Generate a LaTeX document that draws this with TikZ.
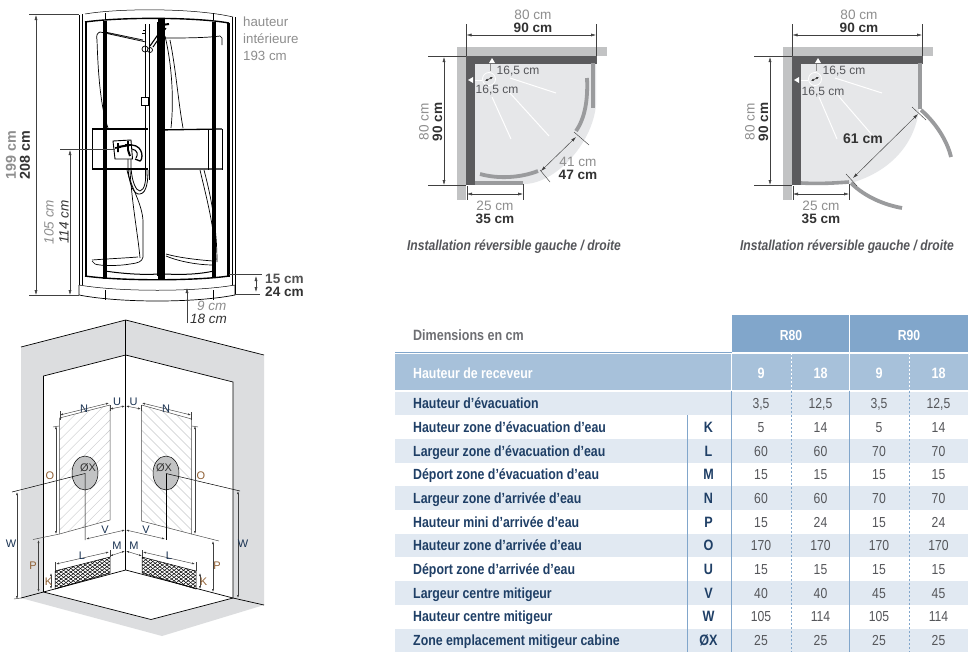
\documentclass[tikz,border=0pt]{standalone}
\usepackage{fontspec}
\setmainfont{Liberation Sans}
\newfontfamily\cond[FakeStretch=0.84]{Liberation Sans}
\usetikzlibrary{arrows.meta}
\definecolor{dk}{HTML}{333333}
\definecolor{gt}{HTML}{8E8E8E}
\definecolor{wall}{HTML}{DCDDDF}
\definecolor{band}{HTML}{C2C3C4}
\definecolor{dband}{HTML}{5B5B5D}
\definecolor{floorc}{HTML}{E6E7E9}
\definecolor{door}{HTML}{9A9B9D}
\definecolor{hdA}{HTML}{81A6CB}
\definecolor{hdB}{HTML}{A7C1DA}
\definecolor{rowc}{HTML}{E1E9F2}
\definecolor{navy}{HTML}{1F3F66}
\definecolor{valc}{HTML}{55565A}
\definecolor{hatchc}{HTML}{C8C9CB}
\tikzset{
 dimg/.style={draw=black!75,line width=.45pt,{Latex[length=5pt,width=3pt]}-{Latex[length=5pt,width=3pt]}},
 dimh/.style={draw=black!75,line width=.45pt,{Latex[length=3pt,width=2pt]}-{Latex[length=3pt,width=2pt]}},
 tickl/.style={draw=black!75,line width=.45pt},
 bk/.style={draw=black,line width=.7pt},
 sm/.style={draw=black,line width=.5pt},
 thickA/.style={draw=black,line width=2.6pt},
 lbl/.style={inner sep=0,font=\fontsize{13.6}{15}\selectfont},
 lg/.style={lbl,text=gt},
 lb/.style={lbl,text=dk,font=\fontsize{13.6}{15}\selectfont\bfseries},
 ig/.style={lbl,text=gt,font=\fontsize{13.5}{15}\selectfont\itshape},
 ib/.style={lbl,text=dk,font=\fontsize{13.5}{15}\selectfont\itshape},
 ltr/.style={inner sep=0,font=\fontsize{11}{12}\selectfont,text=navy!80!black},
 ltro/.style={ltr,text=orange!50!navy},
 capt/.style={inner sep=0,text=valc,font=\cond\fontsize{14.4}{16}\selectfont\bfseries\itshape},
 rowl/.style={anchor=base west,inner sep=0,text=navy,font=\cond\fontsize{14.7}{16}\selectfont\bfseries},
 rowk/.style={anchor=base,inner sep=0,text=navy,font=\cond\fontsize{15}{16}\selectfont\bfseries},
 val/.style={anchor=base,inner sep=0,text=valc,font=\cond\fontsize{14.5}{16}\selectfont},
 hd/.style={anchor=base,inner sep=0,text=white,font=\cond\fontsize{14.5}{16}\selectfont\bfseries},
 sml/.style={inner sep=0,text=valc,font=\fontsize{12}{13}\selectfont},
}
\newcommand{\planbase}[2]{%
 \begin{scope}[shift={(#1,0)}]
 \fill[band] (57,47) rectangle (207,56);
 \fill[band] (57,47) rectangle (66,200);
 \draw[dimg] (66.5,35) -- (196,35);
 \draw[tickl] (66.5,24) -- (66.5,62);
 \draw[tickl] (196,24) -- (196,62);
 \draw[tickl] (28,56.5) -- (66,56.5);
 \draw[tickl] (28,185.5) -- (66,185.5);
 \draw[dimg] (44,57) -- (44,185);
 \draw[dimg] (67,194) -- (123,194);
 \draw[tickl] (67,186) -- (67,200);
 \draw[tickl] (123,184) -- (123,200);
 \node[lg] (a80#1) at (133,14.5) {80 cm};
 \node[lb] (a90#1) at (133,27.5) {90 cm};
 \node[lg,rotate=90] (b80#1) at (24,122) {80 cm};
 \node[lb,rotate=90] (b90#1) at (37.5,122) {90 cm};
 \node[lg] (c25#1) at (95,205.5) {25 cm};
 \node[lb] (c35#1) at (95,218.5) {35 cm};
 \node[capt] (capt#1) at (#2,247) {Installation réversible gauche / droite};
 \end{scope}}
\newcommand{\planmarks}[1]{%
 \begin{scope}[shift={(#1,0)}]
 \fill[white] (92,58) -- (95,63) -- (89,63) -- cycle;
 \fill[white] (68,80) -- (73,77) -- (73,83) -- cycle;
 \draw[white,line width=.8pt] (89,79) circle (6.5);
 \draw[gt,line width=.5pt] (90,64) -- (90,71);
 \draw[white,line width=.8pt] (75,80) -- (82,80);
 \draw[dk,line width=.5pt,{Latex[length=3pt,width=2.5pt]}-{Latex[length=3pt,width=2.5pt]}] (85,81) -- (93,77);
 \end{scope}}
\begin{document}
\begin{tikzpicture}[x=1pt,y=-1pt]
\useasboundingbox (0,0) rectangle (976,664);
\fill[white] (0,0) rectangle (976,664);
%% ===== cabin =====
\draw[sm] (79,15) -- (79,285) (82,14) -- (82,285) (105,13) -- (105,20) (213,13) -- (213,20);
\draw[sm] (235,17) -- (235,295) (232,17) -- (232,285);
\draw[bk] (79,285) -- (79,295) .. controls (120,303) and (195,303) .. (235,295) -- (235,285);
\draw[sm] (79,285) .. controls (120,292) and (195,292) .. (235,285);
\draw[sm] (105,290) -- (105,300) (213,290) -- (213,300);
\draw[sm] (85,14) .. controls (120,8) and (195,8) .. (233,17);
\draw[line width=1.4pt] (85,22) .. controls (120,17) and (195,17) .. (229,23);
\draw[line width=1.4pt] (85,276) .. controls (120,281) and (195,281) .. (229,276);
\draw[line width=1pt] (105,271) .. controls (125,274) and (145,275) .. (158,274) (165,274) .. controls (185,275) and (200,274) .. (214,271);
\draw[thickA] (86,21) -- (86,277);
\draw[line width=3.2pt] (105,21) -- (105,279);
\draw[line width=3.2pt] (214,22) -- (214,278);
\draw[thickA] (228.5,23) -- (228.5,277);
\draw[line width=6.5pt] (161.5,18) -- (161.5,279);
\draw[sm] (157,22) -- (157,276);
% glass shapes
\draw[bk] (100,32) -- (146,42) (105,32) -- (143,40);
\draw[bk] (100,32) .. controls (97,33) and (96,36) .. (97,40) .. controls (98,70) and (100,105) .. (108,128);
\draw[bk] (165,38) .. controls (182,38) and (205,38) .. (220,36) -- (222,38) -- (222,45);
\draw[bk] (165,36) .. controls (172,65) and (174,100) .. (171,128);
\draw[bk] (170,40) .. controls (176,70) and (178,100) .. (183,128);
\draw[bk] (127,170) .. controls (130,185) and (143,205) .. (143,222) -- (143,257) .. controls (142,262) and (138,263) .. (130,264) .. controls (120,266) and (100,266) .. (95,264) -- (92,261);
\draw[bk] (92,260) .. controls (105,259) and (125,258) .. (138,257);
\draw[bk] (130,170) .. controls (132,205) and (138,235) .. (140,258);
\draw[bk] (166,256) .. controls (180,262) and (200,265) .. (213,265);
\draw[bk] (166,254) .. controls (180,258) and (200,260) .. (213,261);
\draw[bk] (200,170) .. controls (207,200) and (214,225) .. (216,260);
\draw[bk] (204,170) .. controls (212,200) and (217,230) .. (217,262);
% bands
\draw[bk] (92,129) -- (92,170);
\draw[line width=1.3pt] (92,129) -- (148,129) (92,169) -- (148,169);
\draw[bk] (222,129) -- (222,170);
\draw[line width=1.3pt] (158,130) -- (222,129) (158,169) -- (222,169);
\draw[sm] (208,130) -- (208,170);
% rail + shower
\draw[bk] (145.5,24) -- (145.5,180) (149,24) -- (149,180);
\draw[bk,fill=white] (141,97) rectangle (148,105);
\draw[line width=1.1pt] (150,46) -- (164,26);
\draw[line width=1pt] (153,47) -- (166,28);
\draw[bk] (145,49) circle (3) (150,50) circle (2.5);
\draw[line width=2pt] (162,25) -- (169,24);
\draw[bk] (142,33) -- (146,33) (143,30) -- (146,30);
% hose
\draw[line width=.8pt] (128,157) -- (128,168) .. controls (129,185) and (134,195) .. (140,194) .. controls (147,193) and (148,180) .. (148,170);
\draw[line width=.8pt] (131,157) -- (131,168) .. controls (132,182) and (136,191) .. (140,191) .. controls (145,190) and (146,180) .. (146,170);
% mixer
\draw[line width=.9pt,fill=white] (113,141) -- (131,140) -- (132.5,159) -- (115,159) -- cycle;
\draw[line width=2pt] (118,147) -- (130,145);
\draw[line width=1.6pt] (118,143) -- (118,152) (115,148) -- (121,147);
\draw[line width=1.6pt] (128,141) -- (128,150) (125,145) -- (131,145);
\draw[line width=2pt] (128,150) -- (130,156);
\draw[line width=1.3pt] (132,145) .. controls (144,146) and (143,160) .. (140,161) -- (135,159);
\draw[line width=1pt] (132,149) .. controls (138,150) and (138,155) .. (136,158);
% cabin dims
\draw[tickl] (29,14.5) -- (79,14.5);
\draw[tickl] (29,295.5) -- (79,295.5);
\draw[dimg] (36,15) -- (36,295);
\draw[tickl] (60,149.5) -- (115,149.5);
\draw[dimg] (70,150) -- (70,295);
\draw[tickl] (229,274) -- (262,274);
\draw[tickl] (235,294) -- (260,294);
\draw[dimg] (256,276) -- (256,292);
\draw[tickl] (187,323) -- (187,296);
\draw[draw=black!75,line width=.45pt,-{Latex[length=5pt,width=3pt]}] (187,310) -- (187,288);
\node[lg,rotate=90,font=\fontsize{14.3}{16}\selectfont\bfseries] (t199) at (11,155) {199 cm};
\node[lb,rotate=90,font=\fontsize{14.3}{16}\selectfont\bfseries] (t208) at (25,155) {208 cm};
\node[ig,rotate=90] (t105) at (49,222) {105 cm};
\node[ib,rotate=90] (t114) at (64,222) {114 cm};
\node[lg,font=\fontsize{13.3}{15}\selectfont,anchor=west] (h1) at (243,22) {hauteur};
\node[lg,font=\fontsize{13.3}{15}\selectfont,anchor=west] (h2) at (243,39) {intérieure};
\node[lg,font=\fontsize{13.3}{15}\selectfont,anchor=west] (h3) at (243,56) {193 cm};
\node[lb,anchor=west,text=dk!85] (t15) at (265,278.5) {15 cm};
\node[lb,anchor=west] (t24) at (265,292) {24 cm};
\node[ig,anchor=west] (t9) at (197,305.5) {9 cm};
\node[ib,anchor=west] (t18) at (190,319) {18 cm};
%% ===== installation sketch =====
\fill[wall] (21,347) -- (125.7,320) -- (264,355) -- (264,605) -- (162,636) -- (21,598) -- cycle;
\fill[white] (43.5,376) -- (125.7,355) -- (233,382) -- (233,598) -- (151,619.5) -- (43.5,592) -- cycle;
\draw[bk] (21,347) -- (125.7,320) -- (264,355);
\draw[bk] (43.5,592) -- (43.5,376) -- (125.7,355) -- (233,382) -- (233,598) -- (151,619.5) -- (43.5,592) -- (21,598);
\draw[bk] (125.7,320) -- (125.7,570);
\draw[bk] (43.5,592) -- (125.7,570) -- (233,598) -- (264,605);
% hatch panels
\begin{scope}
\clip (59.5,418) -- (110,405) -- (110,520) -- (59.5,534) -- cycle;
\foreach \d in {0,10,...,190} \draw[hatchc,line width=.4pt] (59.5,{400+\d}) -- (110,{400+\d-50});
\end{scope}
\begin{scope}
\clip (141.5,405) -- (191.5,419) -- (191.5,534) -- (141.5,521) -- cycle;
\foreach \d in {0,10,...,190} \draw[hatchc,line width=.4pt] (141.5,{350+\d}) -- (191.5,{350+\d+50});
\end{scope}
\draw[sm,draw=black!70] (110,405) -- (110,520) -- (59.5,534) -- (59.5,418) -- (110,405);
\draw[sm,draw=black!70] (141.5,405) -- (141.5,521) -- (191.5,534) -- (191.5,419) -- (141.5,405);
% mesh
\begin{scope}
\clip (55,571) -- (110,557) -- (110,573) -- (55,589) -- cycle;
\foreach \d in {0,3.5,...,110} {\draw[black,line width=.5pt] (55,{545+\d}) -- (110,{545+\d-40}); \draw[black,line width=.5pt] (55,{515+\d}) -- (110,{515+\d+40});}
\end{scope}
\begin{scope}
\clip (142,557) -- (196,571) -- (196,589) -- (142,573) -- cycle;
\foreach \d in {0,3.5,...,110} {\draw[black,line width=.5pt] (142,{545+\d}) -- (196,{545+\d-40}); \draw[black,line width=.5pt] (142,{515+\d}) -- (196,{515+\d+40});}
\end{scope}
\draw[sm] (55,571) -- (110,557) -- (110,573) -- (55,589) -- cycle;
\draw[sm] (142,557) -- (196,571) -- (196,589) -- (142,573) -- cycle;
% ellipses
\draw[sm,fill=band] (85,473) ellipse (13 and 17);
\draw[sm,fill=band] (166,473) ellipse (13 and 17);
% dim lines
\draw[sm] (12,492) -- (85,473.5) -- (85,540);
\draw[sm] (166,473.5) -- (240,491);
\draw[sm] (166,473.5) -- (166,540);
\draw[dimh] (17,492) -- (17,599);
\draw[dimh] (238,491) -- (238,598);
\draw[dimh] (56,426) -- (56,534);
\draw[dimh] (195,426) -- (195,534);
\draw[tickl] (53,427) -- (59,426) (192,426) -- (198,427) (14,599) -- (21,598) (33,539.5) -- (59.5,534) (191.5,534) -- (219,541);
\draw[dimh] (38.5,540) -- (38.5,592);
\draw[dimh] (213,541) -- (213,592);
\draw[dimh] (51,573) -- (51,589);
\draw[dimh] (200,573) -- (200,589);
\draw[dimh] (60,415) -- (109,403);
\draw[dimh] (142,403) -- (191,415);
\draw[tickl] (60,411) -- (60,420) (191.5,412) -- (191.5,420);
\draw[dimh] (110,409) -- (125,406);
\draw[dimh] (126,406) -- (141,409);
\draw[tickl] (110,405) -- (110,411) (141.5,405) -- (141.5,411);
\draw[dimh] (86,539) -- (125,530);
\draw[dimh] (126,530) -- (165,539);
\draw[dimh] (110,556) -- (125,551);
\draw[dimh] (126,551) -- (142,556);
\draw[tickl] (110,550) -- (110,557) (142,550) -- (142,557);
\draw[dimh] (56,564) -- (109,552);
\draw[dimh] (143,552) -- (195,564);
\draw[tickl] (55,562) -- (55,571) (196,562) -- (196,571);
\node[ltr] (ln1) at (84,409) {N};
\node[ltr] (ln2) at (166,409) {N};
\node[ltr] (lu1) at (117,402) {U};
\node[ltr] (lu2) at (133.5,402) {U};
\node[ltr,text=dk] (lx1) at (88,468) {ØX};
\node[ltr,text=dk] (lx2) at (164,468) {ØX};
\node[ltro] (lo1) at (50,476) {O};
\node[ltro] (lo2) at (201,476) {O};
\node[ltr] (lv1) at (105,530) {V};
\node[ltr] (lv2) at (146,530) {V};
\node[ltr] (lw1) at (11,544) {W};
\node[ltr] (lw2) at (243,544) {W};
\node[ltro] (lp1) at (33,566) {P};
\node[ltro] (lp2) at (217,566) {P};
\node[ltr] (lm1) at (117,546) {M};
\node[ltr] (lm2) at (134,546) {M};
\node[ltr] (ll1) at (82,556) {L};
\node[ltr] (ll2) at (169,556) {L};
\node[ltro] (lk1) at (48.5,582) {K};
\node[ltro] (lk2) at (203.5,582) {K};
%% ===== plan 1 =====
\fill[floorc] (475,64) -- (596,64) -- (596,105) .. controls (592,145) and (555,183) .. (525,184) -- (475,185) -- cycle;
\planbase{400}{114}
\fill[dband] (466,56) rectangle (597,63.5);
\fill[dband] (466,56) rectangle (475,185);
\draw[door,line width=3.6pt] (593,63) -- (593,108);
\draw[door,line width=3.6pt] (475,183) -- (523,183);
\draw[door,line width=3.8pt] (587,78) .. controls (588,100) and (585,118) .. (576,131);
\draw[door,line width=3.8pt] (480,174) .. controls (498,179) and (520,178) .. (538,171);
\draw[white,line width=1pt] (510,78) -- (556,93) (492,97) -- (511,139) (509,92) -- (549,136);
\planmarks{400}
\draw[dimg] (576,137) -- (541,171);
\draw[tickl] (574,132) -- (589,145) (540,170) -- (550,182);
\node[sml] (s1) at (518,71) {16,5 cm};
\node[sml] (s2) at (497,90) {16,5 cm};
\node[lg] (d41) at (578,161.5) {41 cm};
\node[lb] (d47) at (578,174.5) {47 cm};
%% ===== plan 2 =====
\fill[floorc] (801,64) -- (922,64) -- (919,110) .. controls (915,140) and (895,170) .. (851,183) -- (801,185) -- cycle;
\planbase{726}{121}
\fill[dband] (792,56) rectangle (923,63.5);
\fill[dband] (792,56) rectangle (801,185);
\draw[door,line width=3.6pt] (920,63) -- (920,109);
\draw[door,line width=3.6pt] (801,183) .. controls (820,184) and (835,183) .. (849,182);
\draw[door,line width=3.8pt] (921,110) .. controls (935,122) and (947,140) .. (951,157);
\draw[door,line width=3.8pt] (851,183) .. controls (865,197) and (885,205) .. (902,208);
\planmarks{726}
\draw[dimg] (918,114) -- (853,178);
\draw[tickl] (912,107) -- (926,120) (846,174) -- (857,186);
\draw[white,line width=1pt] (835,78) -- (882,93) (819,97) -- (837,139) (835,92) -- (873,136);
\node[sml] (s3) at (844,71) {16,5 cm};
\node[sml] (s4) at (823,92) {16,5 cm};
\node[lb,font=\fontsize{14}{15}\selectfont\bfseries] (d61) at (863,139) {61 cm};
%% ===== table =====
\fill[hdA] (732,315) rectangle (968,352);
\fill[hdB] (395,353.5) rectangle (968,390);
\foreach \y in {391.5,438.9,486.3,533.7,581.1,628.5} \fill[rowc] (395,\y) rectangle (968,\y+23.7);
\draw[hdA,line width=1pt] (395,352.6) -- (732,352.6);
\draw[white,line width=1pt] (849.5,315) -- (849.5,391) (731.5,353) -- (731.5,391);
\draw[white,line width=1pt] (732,352.6) -- (968,352.6);
\draw[white,line width=.8pt] (732,390.7) -- (968,390.7);
\draw[white,line width=.5pt,dash pattern=on 2pt off 2pt] (791,353) -- (791,391) (909,353) -- (909,391);
\draw[hdA,line width=.7pt] (731.5,391) -- (731.5,652) (849.5,391) -- (849.5,652);
\draw[hdA,line width=.7pt] (687.5,415) -- (687.5,652);
\draw[hdA,line width=.5pt,dash pattern=on 2pt off 2pt] (791,391) -- (791,652) (909,391) -- (909,652);
\node[inner sep=0,anchor=base west,text=valc!85,font=\cond\fontsize{14.9}{16}\selectfont\bfseries] (dim) at (413,340) {Dimensions en cm};
\node[hd] (r80) at (791,340) {R80};
\node[hd] (r90) at (909,340) {R90};
\node[rowl,text=white] (rcv) at (413,378) {Hauteur de receveur};
\foreach \x/\t in {761/9,820.5/18,879/9,938.5/18} \node[hd,font=\cond\fontsize{15}{16}\selectfont\bfseries] at (\x,378) {\t};
\newcommand{\tabrow}[7]{%
 \node[rowl] at (413,#1+5) {#2};
 \node[rowk] at (708.5,#1+5) {#3};
 \node[val] at (761,#1+5) {#4};
 \node[val] at (820.5,#1+5) {#5};
 \node[val] at (879,#1+5) {#6};
 \node[val] at (938.5,#1+5) {#7};}
\tabrow{403.5}{Hauteur d’évacuation}{}{3,5}{12,5}{3,5}{12,5}
\tabrow{427}{Hauteur zone d’évacuation d’eau}{K}{5}{14}{5}{14}
\tabrow{451}{Largeur zone d’évacuation d’eau}{L}{60}{60}{70}{70}
\tabrow{474.5}{Déport zone d’évacuation d’eau}{M}{15}{15}{15}{15}
\tabrow{498}{Largeur zone d’arrivée d’eau}{N}{60}{60}{70}{70}
\tabrow{522}{Hauteur mini d’arrivée d’eau}{P}{15}{24}{15}{24}
\tabrow{545.5}{Hauteur zone d’arrivée d’eau}{O}{170}{170}{170}{170}
\tabrow{569}{Déport zone d’arrivée d’eau}{U}{15}{15}{15}{15}
\tabrow{593}{Largeur centre mitigeur}{V}{40}{40}{45}{45}
\tabrow{616.5}{Hauteur centre mitigeur}{W}{105}{114}{105}{114}
\tabrow{640}{Zone emplacement mitigeur cabine}{ØX}{25}{25}{25}{25}
\end{tikzpicture}
\end{document}
